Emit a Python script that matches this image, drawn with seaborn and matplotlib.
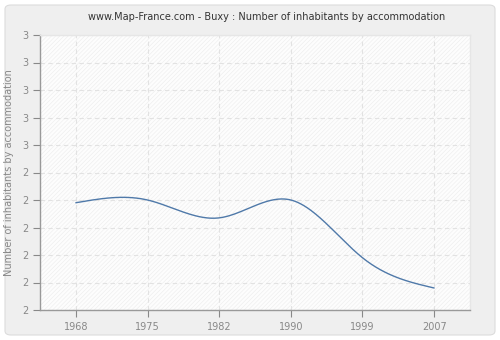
import numpy as np
import pandas as pd
import matplotlib
matplotlib.use("Agg")
import matplotlib.pyplot as plt
from matplotlib.patches import FancyBboxPatch
import seaborn as sns

years = [1968, 1975, 1982, 1990, 1999, 2007]
values = [2.39, 2.40, 2.335, 2.40, 2.19, 2.08]
y_ticks = [2.0, 2.1, 2.2, 2.3, 2.4, 2.5, 2.6, 2.7, 2.8, 2.9, 3.0]
y_tick_labels = ["2", "2", "2", "2", "2", "2", "3", "3", "3", "3", "3"]
title = "www.Map-France.com - Buxy : Number of inhabitants by accommodation"
ylabel = "Number of inhabitants by accommodation"


def natural_spline(x, y, n=400):
    x = np.asarray(x, float)
    y = np.asarray(y, float)
    k = len(x)
    h = np.diff(x)
    A = np.zeros((k, k))
    b = np.zeros(k)
    A[0, 0] = 1
    A[-1, -1] = 1
    for i in range(1, k - 1):
        A[i, i - 1] = h[i - 1]
        A[i, i] = 2 * (h[i - 1] + h[i])
        A[i, i + 1] = h[i]
        b[i] = 6 * ((y[i + 1] - y[i]) / h[i] - (y[i] - y[i - 1]) / h[i - 1])
    M = np.linalg.solve(A, b)
    xs = np.linspace(x[0], x[-1], n)
    ys = np.empty_like(xs)
    for j, xv in enumerate(xs):
        i = min(np.searchsorted(x, xv, side="right") - 1, k - 2)
        t1 = x[i + 1] - xv
        t0 = xv - x[i]
        ys[j] = (M[i] * t1**3 / (6 * h[i]) + M[i + 1] * t0**3 / (6 * h[i])
                 + (y[i] / h[i] - M[i] * h[i] / 6) * t1
                 + (y[i + 1] / h[i] - M[i + 1] * h[i] / 6) * t0)
    return xs, ys


sns.set_style("white")
plt.rcParams["font.family"] = ["DejaVu Sans"]
plt.rcParams["hatch.color"] = "#efefef"
plt.rcParams["hatch.linewidth"] = 0.5

fig = plt.figure(figsize=(5, 3.4), dpi=100)
fig.patch.set_facecolor("white")
bg = FancyBboxPatch((5 / 500, 5 / 340), 490 / 500, 330 / 340,
                    boxstyle="round,pad=0,rounding_size=0.012",
                    transform=fig.transFigure, facecolor="#efefef",
                    edgecolor="#dcdcdc", linewidth=0.8, zorder=-10)
fig.patches.append(bg)

ax = fig.add_axes([40 / 500, 30 / 340, 430 / 500, 275 / 340])
ax.set_zorder(5)
ax.set_facecolor("#fdfdfd")
ax.patch.set_hatch("////////")
ax.patch.set_edgecolor("#efefef")
ax.patch.set_linewidth(0)

pos = np.arange(len(years))
xs, ys = natural_spline(pos, values)
df = pd.DataFrame({"pos": xs, "value": ys})
sns.lineplot(data=df, x="pos", y="value", ax=ax, color="#4f79a9",
             linewidth=1.0, zorder=3)

ax.set_xlim(-0.5, len(years) - 0.5)
ax.set_ylim(2.0, 3.0)
ax.set_xticks(pos)
ax.set_xticklabels([str(y) for y in years])
ax.set_yticks(y_ticks)
ax.set_yticklabels(y_tick_labels)
ax.grid(True, color="#e2e2e2", linestyle=(0, (4, 3)), linewidth=0.8)
ax.set_axisbelow(True)

for s in ["top", "right"]:
    ax.spines[s].set_color("#e6e6e6")
    ax.spines[s].set_linewidth(1.0)
for s in ["left", "bottom"]:
    ax.spines[s].set_color("#999999")
    ax.spines[s].set_linewidth(1.0)

ax.tick_params(axis="both", which="major", labelsize=7, colors="#888888",
               length=5, width=0.8, direction="out", bottom=True, left=True)
for lab in ax.get_xticklabels() + ax.get_yticklabels():
    lab.set_color("#888888")
ax.set_xlabel("")
ax.set_ylabel(ylabel, fontsize=7, color="#888888", labelpad=6)

fig.text(267 / 500, 1 - 17 / 340, title, ha="center", va="center",
         fontsize=7, color="#333333")

fig.savefig("out.png", dpi=100, facecolor=fig.get_facecolor())
